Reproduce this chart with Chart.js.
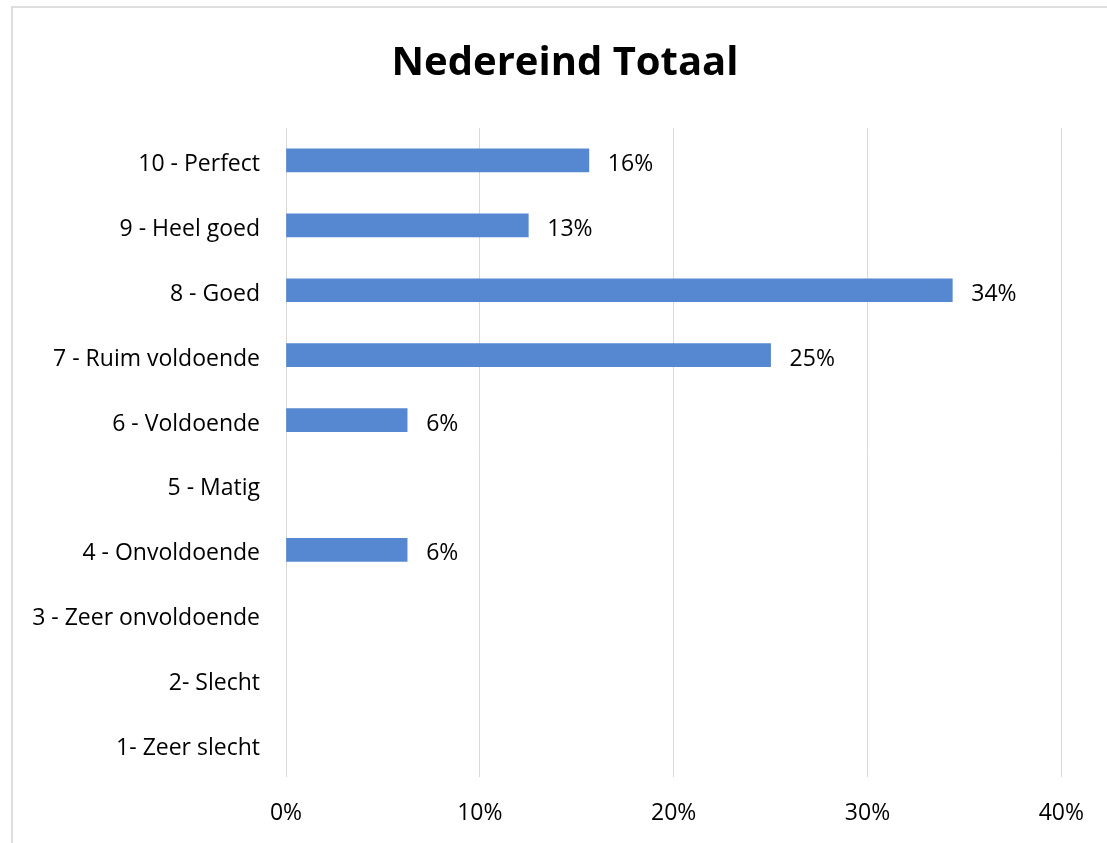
<!DOCTYPE html>
<html>
<head>
<meta charset="utf-8">
<script src="https://cdn.jsdelivr.net/npm/chart.js@4"></script>
<style>
  body { margin: 0; background: #fff; }
  #wrap { position: relative; width: 1107px; height: 843px; }
  #frame {
    position: absolute; left: 11px; top: 6px; right: 0; bottom: 0;
    border-left: 2px solid #dedede; border-top: 2px solid #dedede;
    pointer-events: none;
  }
  canvas { position: absolute; left: 0; top: 0; }
</style>
</head>
<body>
<div id="wrap">
  <canvas id="scoreChart" width="1107" height="843"></canvas>
  <div id="frame"></div>
</div>
<script>
const FONT = '"Open Sans", sans-serif';

const categories = [
  '10 - Perfect',
  '9 - Heel goed',
  '8 - Goed',
  '7 - Ruim voldoende',
  '6 - Voldoende',
  '5 - Matig',
  '4 - Onvoldoende',
  '3 - Zeer onvoldoende',
  '2- Slecht',
  '1- Zeer slecht',
];
// aandeel per score in procenten
const shares = [15.625, 12.5, 34.375, 25, 6.25, 0, 6.25, 0, 0, 0];
const axisTicks = [0, 10, 20, 30, 40];
const chartTitle = 'Nedereind Totaal';

// titel, categorienamen en percentages naast de balken
const textLayer = {
  id: 'textLayer',
  afterDatasetsDraw(chart) {
    const ctx = chart.ctx;
    const area = chart.chartArea;
    const yScale = chart.scales.y;
    const meta = chart.getDatasetMeta(0);
    ctx.save();
    ctx.fillStyle = '#000';
    ctx.textBaseline = 'middle';

    ctx.font = 'bold 40px ' + FONT;
    ctx.textAlign = 'center';
    ctx.fillText(chartTitle, 565, 64);

    ctx.font = '23px ' + FONT;
    ctx.textAlign = 'right';
    categories.forEach((name, i) => {
      ctx.fillText(name, area.left - 26, yScale.getPixelForTick(i) + 4);
    });

    ctx.textAlign = 'left';
    meta.data.forEach((bar, i) => {
      const v = shares[i];
      if (!v) return;
      ctx.fillText(Math.round(v) + '%', bar.x + 19, bar.y + 4);
    });
    ctx.restore();
  }
};

const ctx = document.getElementById('scoreChart').getContext('2d');
new Chart(ctx, {
  type: 'bar',
  data: {
    labels: categories,
    datasets: [{
      data: shares,
      backgroundColor: c => (c.raw ? '#5687d1' : 'rgba(0,0,0,0)'),
      barThickness: 23,
    }]
  },
  plugins: [textLayer],
  options: {
    indexAxis: 'y',
    responsive: false,
    animation: false,
    layout: { padding: { left: 24, right: 44, top: 128, bottom: 0 } },
    plugins: {
      legend: { display: false },
      tooltip: { enabled: false },
      title: { display: false },
    },
    scales: {
      x: {
        min: 0,
        max: 40,
        afterBuildTicks(axis) {
          axis.ticks = axisTicks.map(v => ({ value: v }));
        },
        afterFit(axis) { axis.height = 66; },
        ticks: {
          color: '#000',
          font: { family: FONT, size: 23 },
          padding: 23,
          callback: v => v + '%',
        },
        grid: { color: '#d9d9d9', lineWidth: 1, drawTicks: false },
        border: { display: false },
      },
      y: {
        afterFit(axis) { axis.width = 262; },
        ticks: { display: false },
        grid: { display: false, drawTicks: false },
        border: { display: false },
      }
    }
  }
});
</script>
</body>
</html>
